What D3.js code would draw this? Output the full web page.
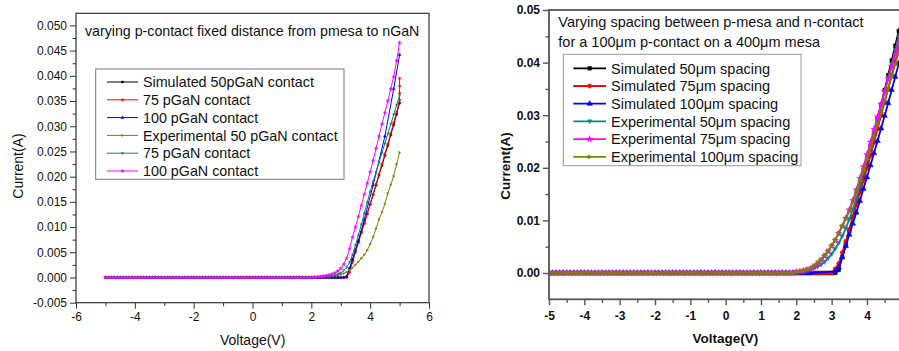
<!DOCTYPE html>
<html><head><meta charset="utf-8">
<script src="https://cdn.jsdelivr.net/npm/d3@7"></script>
<style>body{margin:0;background:#fff} svg{display:block}</style>
</head><body>
<svg id="c" width="899" height="351"></svg>
<script>
// ---------- DATA ----------
const volts = [-5.0,-4.9,-4.8,-4.7,-4.6,-4.5,-4.4,-4.3,-4.2,-4.1,
 -4.0,-3.9,-3.8,-3.7,-3.6,-3.5,-3.4,-3.3,-3.2,-3.1,
 -3.0,-2.9,-2.8,-2.7,-2.6,-2.5,-2.4,-2.3,-2.2,-2.1,
 -2.0,-1.9,-1.8,-1.7,-1.6,-1.5,-1.4,-1.3,-1.2,-1.1,
 -1.0,-0.9,-0.8,-0.7,-0.6,-0.5,-0.4,-0.3,-0.2,-0.1,
 0.0,0.1,0.2,0.3,0.4,0.5,0.6,0.7,0.8,0.9,
 1.0,1.1,1.2,1.3,1.4,1.5,1.6,1.7,1.8,1.9,
 2.0,2.1,2.2,2.3,2.4,2.5,2.6,2.7,2.8,2.9,
 3.0,3.1,3.2,3.3,3.4,3.5,3.6,3.7,3.8,3.9,
 4.0,4.1,4.2,4.3,4.4,4.5,4.6,4.7,4.8,4.9,
 5.0];
// reverse-bias region (-5.0 .. 1.9 V): current reads as zero in both plots
const flat70 = [0,0,0,0,0,0,0,0,0,0, 0,0,0,0,0,0,0,0,0,0, 0,0,0,0,0,0,0,0,0,0,
 0,0,0,0,0,0,0,0,0,0, 0,0,0,0,0,0,0,0,0,0, 0,0,0,0,0,0,0,0,0,0, 0,0,0,0,0,0,0,0,0,0];

// Left plot: varying p-contact (values 2.0..5.0 V after the flat part)
const leftSim50 = [...flat70,
 0,0,0,0,0,0,0,0,0,0,
 0,0,0.0001,0.0018,0.0036,0.0054,0.0072,0.0090,0.0108,0.0127,
 0.0145,0.0164,0.0183,0.0203,0.0222,0.0242,0.0262,0.0283,0.0303,0.0324,
 0.0346];
const leftSim75 = [...flat70,
 0,0,0,0,0,0,0,0,0,0,
 0,0,0,0.0010,0.0030,0.0050,0.0069,0.0088,0.0107,0.0126,
 0.0145,0.0165,0.0185,0.0205,0.0225,0.0245,0.0265,0.0286,0.0307,0.0328,
 0.0352];
const leftSim75TailV = [5.0, 5.0, 5.0];
const leftSim75TailI = [0.0366, 0.0380, 0.0395];
const leftSim100 = [...flat70,
 0,0,0,0,0,0,0,0,0,0,
 0,0,0.0002,0.0017,0.0035,null,0.0073,null,0.0115,null,
 null,0.0183,null,null,null,0.0280,null,null,0.0374,null,
 0.0442];
const leftExp50 = [...flat70,
 0,0,0.0001,0.0001,0.0001,0.0002,0.0002,0.0003,0.0004,0.0005,
 0.0006,0.0008,0.0011,0.0015,0.0019,0.0025,0.0031,0.0038,0.0045,0.0054,
 0.0066,0.0080,0.0097,0.0115,0.0129,0.0146,0.0167,0.0184,0.0201,0.0225,
 0.0248];
const leftExp75 = [...flat70,
 0,0,0.0001,0.0001,0.0001,0.0002,0.0002,0.0003,0.0004,0.0006,
 0.0009,0.0014,0.0020,0.0030,0.0045,0.0064,0.0084,0.0105,0.0127,0.0149,
 0.0170,0.0190,0.0209,0.0228,0.0247,0.0266,0.0285,0.0304,0.0323,0.0342,
 0.0361];
const leftExp100 = [...flat70,
 0,0.0001,0.0001,0.0002,0.0003,0.0004,0.0005,0.0007,0.0009,0.0013,
 0.0018,0.0026,0.0038,0.0057,0.0080,0.0100,0.0121,0.0143,0.0165,0.0187,
 0.0209,0.0232,0.0256,0.0280,0.0304,0.0327,0.0350,0.0374,0.0398,0.0430,
 0.0466];

// Right plot: varying spacing
const rightSim50 = [...flat70,
 0,0,0,0,0,0,0,0,0,0,
 0,0,0.0006,0.0030,0.0055,0.0080,0.0105,0.0131,0.0157,0.0184,
 0.0211,0.0238,0.0265,0.0292,0.0320,0.0348,0.0376,0.0404,0.0432,0.0460,
 0.0488];
const rightSim75 = [...flat70,
 0,0,0,0,0,0,0,0,0,0,
 0,0.0008,0.0018,0.0039,0.0060,0.0083,0.0107,0.0130,0.0153,0.0176,
 0.0199,0.0223,0.0248,0.0274,0.0300,0.0325,0.0350,0.0376,0.0402,0.0428,
 0.0454];
const rightSim100 = [...flat70,
 0,0,0,0,0,null,null,null,null,null,
 null,0.0003,0.0011,0.0030,0.0051,0.0073,0.0094,0.0115,0.0137,0.0160,
 0.0182,0.0205,0.0228,0.0251,0.0275,0.0299,0.0323,0.0348,0.0373,0.0398,
 0.0423];
const rightExp50 = [...flat70,
 0.0001,0.0002,0.0003,0.0004,0.0006,0.0009,0.0012,0.0016,0.0021,0.0028,
 0.0036,0.0046,0.0057,0.0070,0.0085,0.0102,0.0121,0.0142,0.0165,0.0190,
 0.0215,0.0241,0.0267,0.0293,0.0319,0.0345,0.0371,0.0397,0.0423,0.0449,
 0.0475];
const rightExp75 = [...flat70,
 0.0002,0.0003,0.0004,0.0006,0.0008,0.0012,0.0017,0.0024,0.0032,0.0041,
 0.0051,0.0062,0.0075,0.0089,0.0104,0.0120,0.0138,0.0158,0.0180,0.0202,
 0.0225,0.0249,0.0273,0.0297,0.0321,0.0345,0.0369,0.0393,0.0416,0.0438,
 0.0460];
const rightExp100 = [...flat70,
 0.0002,0.0003,0.0005,0.0007,0.0009,0.0014,0.0020,0.0026,0.0034,0.0042,
 0.0052,0.0063,0.0076,0.0089,0.0103,0.0117,0.0135,0.0154,0.0174,0.0195,
 0.0216,0.0237,0.0259,0.0282,0.0305,0.0328,0.0351,0.0374,0.0397,0.0420,
 0.0443];

// labels and ticks
const leftNames = ["Simulated 50pGaN contact","75 pGaN contact","100 pGaN contact",
  "Experimental 50 pGaN contact","75 pGaN contact","100 pGaN contact"];
const rightNames = ["Simulated 50\u03bcm spacing","Simulated 75\u03bcm spacing","Simulated 100\u03bcm spacing",
  "Experimental 50\u03bcm spacing","Experimental 75\u03bcm spacing","Experimental 100\u03bcm spacing"];
const leftTitle = ["varying p-contact fixed distance from pmesa to nGaN"];
const rightTitle = ["Varying spacing between p-mesa and n-contact","for a 100\u03bcm p-contact on a 400\u03bcm mesa"];
const leftXTicks = [-6,-4,-2,0,2,4,6];
const leftXMinor = [-5,-3,-1,1,3,5];
const leftYTicks = [-0.005,0.000,0.005,0.010,0.015,0.020,0.025,0.030,0.035,0.040,0.045,0.050];
const leftYMinor = [-0.0025,0.0025,0.0075,0.0125,0.0175,0.0225,0.0275,0.0325,0.0375,0.0425,0.0475];
const rightXTicks = [-5,-4,-3,-2,-1,0,1,2,3,4];
const rightXMinor = [-4.5,-3.5,-2.5,-1.5,-0.5,0.5,1.5,2.5,3.5,4.5];
const rightYTicks = [0.00,0.01,0.02,0.03,0.04,0.05];
const rightYMinor = [0.005,0.015,0.025,0.035,0.045];

// ---------- DRAW ----------
const svg = d3.select("#c");
const triRight = {draw(ctx, size){ const s=Math.sqrt(size/1.3); ctx.moveTo(s*0.75,0); ctx.lineTo(-s*0.5,-s*0.65); ctx.lineTo(-s*0.5,s*0.65); ctx.closePath(); }};
const triDown = {draw(ctx, size){ const s=Math.sqrt(size/1.3); ctx.moveTo(0,s*0.75); ctx.lineTo(-s*0.65,-s*0.5); ctx.lineTo(s*0.65,-s*0.5); ctx.closePath(); }};

function drawChart(cfg){
  const x = d3.scaleLinear().domain(cfg.xDomain).range(cfg.xRange);
  const y = d3.scaleLinear().domain(cfg.yDomain).range(cfg.yRange);
  const g = svg.append("g");
  const clipId = cfg.id + "clip";
  svg.append("clipPath").attr("id", clipId).append("rect")
    .attr("x", cfg.xRange[0]).attr("y", cfg.yRange[1])
    .attr("width", cfg.xRange[1]-cfg.xRange[0]).attr("height", cfg.yRange[0]-cfg.yRange[1]);

  const tickStyle = sel => { sel.select(".domain").remove(); sel.selectAll("line").attr("stroke", cfg.axisColor).attr("stroke-width", cfg.tickW);
    sel.selectAll("text").attr("fill","#111").style("font-family", "Liberation Sans, Arial, sans-serif").style("font-size", cfg.tickFont+"px").style("font-weight", cfg.tickWeight); };
  g.append("g").attr("transform",`translate(0,${cfg.yRange[0]})`)
    .call(d3.axisBottom(x).tickValues(cfg.xTicks).tickSize(cfg.majorLen).tickPadding(cfg.xPad).tickFormat(d=>String(d))).call(tickStyle);
  g.append("g").attr("transform",`translate(0,${cfg.yRange[0]})`)
    .call(d3.axisBottom(x).tickValues(cfg.xMinor).tickSize(cfg.minorLen).tickFormat("")).call(tickStyle);
  g.append("g").attr("transform",`translate(${cfg.xRange[0]},0)`)
    .call(d3.axisLeft(y).tickValues(cfg.yTicks).tickSize(cfg.majorLen).tickPadding(cfg.yPad).tickFormat(d3.format(cfg.yFmt))).call(tickStyle);
  g.append("g").attr("transform",`translate(${cfg.xRange[0]},0)`)
    .call(d3.axisLeft(y).tickValues(cfg.yMinor).tickSize(cfg.minorLen).tickFormat("")).call(tickStyle);
  g.selectAll(".tick text").text(function(){ return this.textContent.replace("\u2212","-"); });

  const plot = g.append("g").attr("clip-path", `url(#${clipId})`);
  cfg.series.forEach(s=>{
    const pts = s.v.map((v,i)=>[v, s.i[i]]).filter(p=>p[1]!==null && p[1]!==undefined);
    plot.append("path").attr("d", d3.line().x(p=>x(p[0])).y(p=>y(p[1]))(pts))
      .attr("fill","none").attr("stroke", s.color).attr("stroke-width", cfg.lineW).attr("stroke-linejoin","round");
    const sym = d3.symbol().type(s.symbol).size(cfg.markSize);
    plot.append("g").selectAll("path").data(pts).join("path").attr("d", sym)
      .attr("transform", p=>`translate(${x(p[0])},${y(p[1])})`)
      .attr("fill", s.color).attr("stroke", s.color).attr("stroke-width", 0.4);
  });

  g.append("rect").attr("x", cfg.xRange[0]).attr("y", cfg.yRange[1])
    .attr("width", cfg.xRange[1]-cfg.xRange[0]).attr("height", cfg.yRange[0]-cfg.yRange[1])
    .attr("fill","none").attr("stroke", cfg.axisColor).attr("stroke-width", cfg.frameW);

  cfg.title.forEach((t,k)=>{
    g.append("text").attr("x", cfg.titleX).attr("y", cfg.titleY + k*cfg.titleDy).text(t)
      .style("font-family","Liberation Sans, Arial, sans-serif").style("font-size", cfg.titleFont+"px").attr("fill","#111");
  });

  const L = cfg.legend;
  g.append("rect").attr("x", L.x).attr("y", L.y).attr("width", L.w).attr("height", L.h)
    .attr("fill","#fff").attr("stroke", L.stroke).attr("stroke-width", 1);
  cfg.series.forEach((s,k)=>{
    const cy = L.row0 + k*L.dy;
    g.append("line").attr("x1", L.lx1).attr("x2", L.lx2).attr("y1", cy).attr("y2", cy)
      .attr("stroke", s.color).attr("stroke-width", cfg.lineW);
    g.append("path").attr("d", d3.symbol().type(s.symbol).size(cfg.markSize)())
      .attr("transform", `translate(${(L.lx1+L.lx2)/2},${cy})`).attr("fill", s.color).attr("stroke", s.color).attr("stroke-width",0.4);
    g.append("text").attr("x", L.tx).attr("y", cy).attr("dy","0.36em").text(cfg.names[k])
      .style("font-family","Liberation Sans, Arial, sans-serif").style("font-size", L.font+"px").attr("fill","#111");
  });

  g.append("text").attr("x", cfg.xLabel[0]).attr("y", cfg.xLabel[1]).attr("text-anchor","middle").text("Voltage(V)")
    .style("font-family","Liberation Sans, Arial, sans-serif").style("font-size", cfg.labelFont+"px").style("font-weight", cfg.labelWeight).attr("fill","#111");
  g.append("text").attr("transform", `translate(${cfg.yLabel[0]},${cfg.yLabel[1]}) rotate(-90)`).attr("text-anchor","middle").attr("dy","0.36em").text("Current(A)")
    .style("font-family","Liberation Sans, Arial, sans-serif").style("font-size", cfg.labelFont+"px").style("font-weight", cfg.labelWeight).attr("fill","#111");
}

const leftSim75V = volts.concat(leftSim75TailV);
const leftSim75I = leftSim75.concat(leftSim75TailI);

drawChart({
  id:"L", xDomain:[-6,6], xRange:[76,429], yDomain:[-0.005,0.0524], yRange:[302.7,13.3],
  xTicks:leftXTicks, xMinor:leftXMinor, yTicks:leftYTicks, yMinor:leftYMinor, yFmt:".3f",
  majorLen:6, minorLen:3.5, xPad:4, yPad:3, tickFont:12, tickWeight:"normal",
  axisColor:"#333", tickW:1, frameW:1.2, lineW:1, markSize:4,
  series:[
    {v:volts, i:leftSim50, color:"#000000", symbol:d3.symbolSquare},
    {v:leftSim75V, i:leftSim75I, color:"#ff0000", symbol:d3.symbolCircle},
    {v:volts, i:leftSim100, color:"#0000ff", symbol:d3.symbolTriangle},
    {v:volts, i:leftExp50, color:"#808000", symbol:triRight},
    {v:volts, i:leftExp75, color:"#008080", symbol:triDown},
    {v:volts, i:leftExp100, color:"#ff00ff", symbol:d3.symbolStar}
  ],
  names:leftNames, title:leftTitle, titleX:85, titleY:36, titleDy:0, titleFont:14.2,
  legend:{x:95.7, y:69, w:248.3, h:110.3, stroke:"#777", row0:82, dy:17.8, lx1:107, lx2:138, tx:143, font:14.3},
  xLabel:[252.7, 345], yLabel:[18, 166], labelFont:14, labelWeight:"normal"
});

drawChart({
  id:"R", xDomain:[-5,5], xRange:[549,902.3], yDomain:[-0.005,0.05], yRange:[299.3,10],
  xTicks:rightXTicks, xMinor:rightXMinor, yTicks:rightYTicks, yMinor:rightYMinor, yFmt:".2f",
  majorLen:6, minorLen:3.5, xPad:6, yPad:3, tickFont:12, tickWeight:"bold",
  axisColor:"#555", tickW:1.4, frameW:1.8, lineW:1.8, markSize:14,
  series:[
    {v:volts, i:rightSim50, color:"#000000", symbol:d3.symbolSquare},
    {v:volts, i:rightSim75, color:"#ff0000", symbol:d3.symbolCircle},
    {v:volts, i:rightSim100, color:"#0000ff", symbol:d3.symbolTriangle},
    {v:volts, i:rightExp50, color:"#008b8b", symbol:triDown},
    {v:volts, i:rightExp75, color:"#ff00ff", symbol:d3.symbolStar},
    {v:volts, i:rightExp100, color:"#808000", symbol:triRight}
  ],
  names:rightNames, title:rightTitle, titleX:558.3, titleY:27, titleDy:19.5, titleFont:14.5,
  legend:{x:563.3, y:54.3, w:237.7, h:111.4, stroke:"#999", row0:68.3, dy:17.7, lx1:573.3, lx2:606, tx:611, font:14.5},
  xLabel:[725.3, 343], yLabel:[505, 166], labelFont:13.5, labelWeight:"bold"
});
</script>
</body></html>
